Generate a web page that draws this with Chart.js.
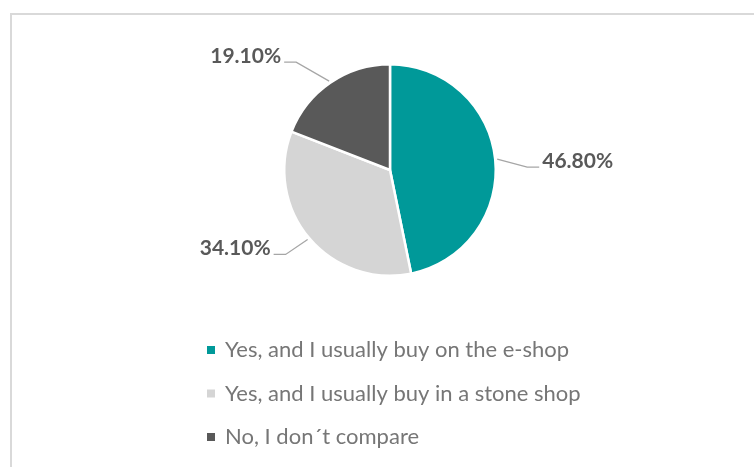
<!DOCTYPE html>
<html>
<head>
<meta charset="utf-8">
<script src="https://cdn.jsdelivr.net/npm/chart.js@4.4.1/dist/chart.umd.min.js"></script>
<style>
  html, body { margin: 0; padding: 0; background: #fff; }
  #wrap { position: relative; width: 754px; height: 467px; overflow: hidden; }
  #frame { position: absolute; left: 10px; top: 13px; width: 800px; height: 500px;
           border-left: 2px solid #d9d9d9; border-top: 2px solid #d9d9d9; }
  canvas { position: absolute; left: 0; top: 0; }
</style>
</head>
<body>
<div id="wrap">
  <div id="frame"></div>
  <canvas id="myChart" width="754" height="467"></canvas>
</div>
<script>
const categories = [
    'Yes, and I usually buy on the e-shop',
    'Yes, and I usually buy in a stone shop',
    'No, I don\u00b4t compare'
];
const shares = [46.8, 34.1, 19.1];
const sliceColors = ['#009999', '#d5d5d5', '#595959'];

// leader line elbows, relative to the point on the slice edge
const leaders = [
    { dx: 30, dy: 8, side: 1 },
    { dx: -22, dy: 15, side: -1 },
    { dx: -33, dy: -19, side: -1 }
];

const pieLabels = {
    id: 'pieLabels',
    afterDatasetsDraw(chart) {
        const ctx = chart.ctx;
        const meta = chart.getDatasetMeta(0);
        ctx.save();
        ctx.font = 'bold 21px Lato';
        meta.data.forEach((arc, i) => {
            const mid = (arc.startAngle + arc.endAngle) / 2;
            const r = arc.outerRadius + 2;
            const sx = arc.x + Math.cos(mid) * r;
            const sy = arc.y + Math.sin(mid) * r;
            const l = leaders[i];
            const ex = sx + l.dx, ey = sy + l.dy;
            const hx = ex + l.side * 12;
            ctx.strokeStyle = '#a6a6a6';
            ctx.lineWidth = 1.3;
            ctx.beginPath();
            ctx.moveTo(sx, sy);
            ctx.lineTo(ex, ey);
            ctx.lineTo(hx, ey);
            ctx.stroke();
            ctx.fillStyle = '#595959';
            ctx.textBaseline = 'middle';
            ctx.textAlign = l.side > 0 ? 'left' : 'right';
            ctx.fillText(shares[i].toFixed(2) + '%', hx + l.side * 3, ey - 6);
        });
        ctx.restore();
    }
};

const listLegend = {
    id: 'listLegend',
    afterDraw(chart) {
        const ctx = chart.ctx;
        ctx.save();
        ctx.font = '22px Lato';
        ctx.textBaseline = 'middle';
        ctx.textAlign = 'left';
        categories.forEach((name, i) => {
            const y = 350 + i * 43.5;
            ctx.fillStyle = sliceColors[i];
            ctx.fillRect(207, y - 4, 8, 8);
            ctx.fillStyle = '#767676';
            ctx.fillText(name, 225, y);
        });
        ctx.restore();
    }
};

const ctx = document.getElementById('myChart').getContext('2d');
const shareChart = new Chart(ctx, {
    type: 'pie',
    data: {
        labels: categories,
        datasets: [{
            data: shares,
            backgroundColor: sliceColors,
            borderColor: '#ffffff',
            borderWidth: 2.5
        }]
    },
    options: {
        responsive: false,
        animation: false,
        layout: {
            padding: { top: 63, bottom: 190, left: 283, right: 257 }
        },
        plugins: {
            legend: { display: false },
            tooltip: { enabled: false }
        }
    },
    plugins: [pieLabels, listLegend]
});
</script>
</body>
</html>
